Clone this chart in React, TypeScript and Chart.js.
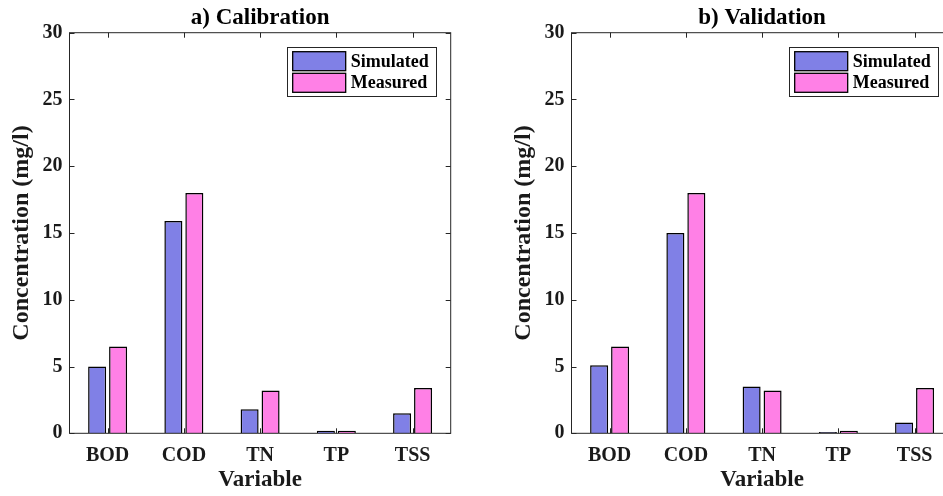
import React, { useEffect, useRef } from "react";
import { Chart, registerables } from "chart.js";

Chart.register(...registerables);

const categories = ["BOD", "COD", "TN", "TP", "TSS"];
const seriesLabels = ["Simulated", "Measured"];
const calibrationSimulated = [5.0, 15.9, 1.8, 0.2, 1.5];
const calibrationMeasured = [6.5, 18.0, 3.2, 0.2, 3.4];
const validationSimulated = [5.1, 15.0, 3.5, 0.1, 0.8];
const validationMeasured = [6.5, 18.0, 3.2, 0.2, 3.4];
const yMin = 0;
const yMax = 30;
const yStep = 5;
const panelTitles = ["a) Calibration", "b) Validation"];
const xTitle = "Variable";
const yTitle = "Concentration (mg/l)";

const FONT = "'Liberation Serif', 'Times New Roman', serif";
const AXIS_COLOR = "#262626";
const COLORS = ["#8080E6", "#FF80E6"];

const framePlugin = {
  id: "matlabFrame",
  afterDatasetsDraw(chart: any, _args: any, opts: any) {
    const { ctx, chartArea: a, scales } = chart;
    ctx.save();
    ctx.strokeStyle = AXIS_COLOR;
    ctx.lineWidth = 1;
    ctx.strokeRect(a.left, a.top, a.right - a.left, a.bottom - a.top);
    const tl = 5;
    ctx.beginPath();
    for (let v = yMin; v <= yMax; v += yStep) {
      const y = Math.round(scales.y.getPixelForValue(v)) + 0.5;
      ctx.moveTo(a.left, y);
      ctx.lineTo(a.left + tl, y);
      ctx.moveTo(a.right, y);
      ctx.lineTo(a.right - tl, y);
    }
    for (let i = 0; i < categories.length; i++) {
      const x = Math.round(scales.x.getPixelForValue(i)) + 0.5;
      ctx.moveTo(x, a.top);
      ctx.lineTo(x, a.top + tl);
      ctx.moveTo(x, a.bottom);
      ctx.lineTo(x, a.bottom - tl);
    }
    ctx.stroke();

    // legend
    const ds = chart.data.datasets;
    ctx.font = `bold 18px ${FONT}`;
    let maxW = 0;
    ds.forEach((d: any) => {
      maxW = Math.max(maxW, ctx.measureText(d.label).width);
    });
    const padL = 5.5;
    const patchW = 53;
    const patchH = 19;
    const gap = 5;
    const padR = 7;
    const rowH = 21.6;
    const lw = padL + patchW + gap + maxW + padR;
    const lh = 4.4 + rowH * ds.length + 1;
    const lx = a.right - 15 - lw;
    const ly = a.top + 14.6;
    ctx.fillStyle = "#ffffff";
    ctx.fillRect(lx, ly, lw, lh);
    ctx.strokeStyle = AXIS_COLOR;
    ctx.lineWidth = 1;
    ctx.strokeRect(Math.round(lx) + 0.5, Math.round(ly) + 0.5, Math.round(lw), Math.round(lh));
    ds.forEach((d: any, i: number) => {
      const py = ly + 4.4 + i * rowH;
      ctx.fillStyle = d.backgroundColor;
      ctx.fillRect(lx + padL, py, patchW, patchH);
      ctx.strokeStyle = "#000000";
      ctx.lineWidth = 1.3;
      ctx.strokeRect(lx + padL, py, patchW, patchH);
      ctx.fillStyle = "#000000";
      ctx.textBaseline = "middle";
      ctx.textAlign = "left";
      ctx.fillText(d.label, lx + padL + patchW + gap, py + patchH / 2 + 1);
    });

    // title
    ctx.font = `bold 23px ${FONT}`;
    ctx.fillStyle = "#000000";
    ctx.textAlign = "center";
    ctx.textBaseline = "alphabetic";
    ctx.fillText(opts.title, (a.left + a.right) / 2, 24);
    ctx.restore();
  },
};

function Panel({ title, sim, meas, left }: { title: string; sim: number[]; meas: number[]; left: number }) {
  const ref = useRef<HTMLCanvasElement | null>(null);
  useEffect(() => {
    if (!ref.current) return;
    const chart = new Chart(ref.current, {
      type: "bar",
      data: {
        labels: categories,
        datasets: [
          {
            label: seriesLabels[0],
            data: sim,
            backgroundColor: COLORS[0],
            borderColor: "#000000",
            borderWidth: 1.5,
            categoryPercentage: 0.55,
            barPercentage: 0.86,
          },
          {
            label: seriesLabels[1],
            data: meas,
            backgroundColor: COLORS[1],
            borderColor: "#000000",
            borderWidth: 1.5,
            categoryPercentage: 0.55,
            barPercentage: 0.86,
          },
        ],
      },
      options: {
        responsive: false,
        animation: false,
        layout: { padding: { top: 32.7, right: 20.3, bottom: 0, left: 0 } },
        plugins: {
          legend: { display: false },
          title: { display: false },
          tooltip: { enabled: false },
          matlabFrame: { title },
        } as any,
        scales: {
          x: {
            type: "category",
            offset: true,
            grid: { display: false, drawTicks: false },
            border: { display: false },
            ticks: {
              color: "#1a1a1a",
              font: { family: FONT, size: 20, weight: "bold" },
              padding: 11,
            },
            title: {
              display: true,
              text: xTitle,
              color: "#1a1a1a",
              font: { family: FONT, size: 23, weight: "bold" },
              padding: { top: 0, bottom: 2 },
            },
            afterFit: (s: any) => {
              s.height = 62.7;
            },
          },
          y: {
            min: yMin,
            max: yMax,
            grid: { display: false, drawTicks: false },
            border: { display: false },
            ticks: {
              stepSize: yStep,
              color: "#1a1a1a",
              font: { family: FONT, size: 20, weight: "bold" },
              padding: 7,
            },
            title: {
              display: true,
              text: yTitle,
              color: "#1a1a1a",
              font: { family: FONT, size: 24, weight: "bold" },
              padding: { top: 7, bottom: 0 },
            },
            afterFit: (s: any) => {
              s.width = 69.5;
            },
          },
        },
      },
      plugins: [framePlugin],
    });
    return () => chart.destroy();
  }, [title, sim, meas]);
  return (
    <canvas
      ref={ref}
      width={471}
      height={496}
      style={{ position: "absolute", left, top: 0, width: 471, height: 496 }}
    />
  );
}

export default function App() {
  return (
    <div
      style={{
        position: "fixed",
        left: 0,
        top: 0,
        width: 943,
        height: 496,
        overflow: "hidden",
        background: "#ffffff",
      }}
    >
      <Panel title={panelTitles[0]} sim={calibrationSimulated} meas={calibrationMeasured} left={0} />
      <Panel title={panelTitles[1]} sim={validationSimulated} meas={validationMeasured} left={502} />
    </div>
  );
}
